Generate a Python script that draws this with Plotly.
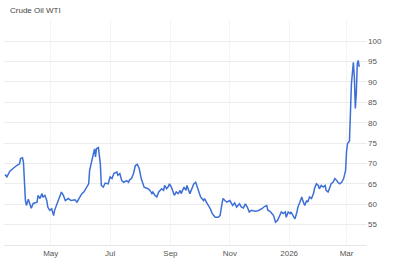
import plotly.graph_objects as go

title_text = "Crude Oil WTI"

dates = [
    "2025-03-15", "2025-03-17", "2025-03-20", "2025-03-24", "2025-03-27", "2025-03-30", "2025-03-31",
    "2025-04-02", "2025-04-03", "2025-04-05", "2025-04-06", "2025-04-08", "2025-04-10", "2025-04-11",
    "2025-04-13", "2025-04-17", "2025-04-18", "2025-04-20", "2025-04-22", "2025-04-23", "2025-04-25",
    "2025-04-27", "2025-04-28", "2025-04-30", "2025-05-02", "2025-05-04", "2025-05-05", "2025-05-07",
    "2025-05-10", "2025-05-12", "2025-05-14", "2025-05-16", "2025-05-19", "2025-05-22", "2025-05-26",
    "2025-05-28", "2025-05-30", "2025-06-02", "2025-06-04", "2025-06-06", "2025-06-09", "2025-06-10",
    "2025-06-12", "2025-06-14", "2025-06-15", "2025-06-16", "2025-06-17", "2025-06-19", "2025-06-21",
    "2025-06-22", "2025-06-24", "2025-06-26", "2025-06-29", "2025-07-01", "2025-07-03", "2025-07-05",
    "2025-07-08", "2025-07-09", "2025-07-11", "2025-07-13", "2025-07-15", "2025-07-18", "2025-07-20",
    "2025-07-21", "2025-07-23", "2025-07-25", "2025-07-27", "2025-07-29", "2025-07-31", "2025-08-02",
    "2025-08-05", "2025-08-09", "2025-08-11", "2025-08-13", "2025-08-14", "2025-08-16", "2025-08-18",
    "2025-08-20", "2025-08-23", "2025-08-25", "2025-08-26", "2025-08-28", "2025-08-30", "2025-08-31",
    "2025-09-02", "2025-09-05", "2025-09-07", "2025-09-09", "2025-09-11", "2025-09-12", "2025-09-15",
    "2025-09-17", "2025-09-18", "2025-09-21", "2025-09-23", "2025-09-25", "2025-09-27", "2025-09-30",
    "2025-10-02", "2025-10-05", "2025-10-06", "2025-10-09", "2025-10-12", "2025-10-14", "2025-10-17",
    "2025-10-20", "2025-10-22", "2025-10-24", "2025-10-25", "2025-10-27", "2025-10-29", "2025-11-01",
    "2025-11-03", "2025-11-04", "2025-11-06", "2025-11-08", "2025-11-11", "2025-11-13", "2025-11-15",
    "2025-11-17", "2025-11-19", "2025-11-21", "2025-11-23", "2025-11-27", "2025-11-30", "2025-12-04",
    "2025-12-07", "2025-12-09", "2025-12-10", "2025-12-13", "2025-12-16", "2025-12-18", "2025-12-20",
    "2025-12-22", "2025-12-24", "2025-12-26", "2025-12-28", "2025-12-29", "2025-12-31", "2026-01-02",
    "2026-01-03", "2026-01-05", "2026-01-07", "2026-01-09", "2026-01-10", "2026-01-12", "2026-01-14",
    "2026-01-15", "2026-01-17", "2026-01-19", "2026-01-20", "2026-01-22", "2026-01-24", "2026-01-26",
    "2026-01-27", "2026-01-29", "2026-01-31", "2026-02-01", "2026-02-03", "2026-02-05", "2026-02-07",
    "2026-02-08", "2026-02-10", "2026-02-12", "2026-02-13", "2026-02-15", "2026-02-17", "2026-02-19",
    "2026-02-20", "2026-02-22", "2026-02-24", "2026-02-26", "2026-02-28", "2026-03-01", "2026-03-02",
    "2026-03-04", "2026-03-06", "2026-03-08", "2026-03-09", "2026-03-10", "2026-03-11", "2026-03-12",
    "2026-03-13", "2026-03-14",
]

prices = [
    67.3, 66.7, 68.1, 69.0, 69.5, 69.9, 71.2,
    71.4, 70.3, 60.9, 59.7, 61.2, 59.7, 59.0,
    60.2, 60.5, 62.2, 61.4, 62.6, 61.7, 62.2,
    60.9, 59.3, 58.5, 58.9, 57.2, 58.5, 59.7,
    61.4, 63.0, 62.2, 60.9, 61.4, 60.9, 61.1,
    60.5, 61.4, 62.6, 63.0, 63.8, 65.0, 68.3,
    70.8, 72.4, 73.6, 71.6, 73.6, 73.9, 69.9,
    64.6, 64.2, 65.2, 65.0, 66.7, 66.3, 67.6,
    67.9, 67.1, 67.5, 65.8, 65.4, 65.8, 65.4,
    66.0, 66.3, 67.5, 69.5, 69.8, 68.7, 66.3,
    64.2, 63.8, 63.4, 62.6, 63.0, 62.2, 61.8,
    63.0, 63.8, 63.4, 64.6, 63.8, 64.4, 65.0,
    64.2, 62.2, 63.0, 62.6, 63.4, 62.6, 64.2,
    63.4, 64.6, 62.6, 63.8, 65.0, 65.4, 63.4,
    61.8, 60.9, 61.4, 60.1, 58.9, 57.7, 56.8,
    56.8, 57.2, 60.1, 61.4, 60.9, 60.5, 60.9,
    60.1, 59.7, 60.3, 59.3, 60.1, 59.3, 59.1,
    60.1, 59.3, 58.1, 58.5, 58.3, 58.4, 58.9,
    59.5, 59.7, 58.6, 58.1, 57.2, 55.6, 56.0,
    57.2, 58.1, 57.7, 58.1, 56.8, 58.1, 57.7,
    58.1, 57.2, 56.4, 58.1, 59.3, 60.5, 61.8,
    60.9, 59.7, 60.9, 60.5, 61.8, 61.4, 62.6,
    63.8, 65.0, 64.6, 63.8, 64.6, 64.2, 64.6,
    63.4, 63.0, 64.2, 65.0, 65.4, 66.3, 65.8,
    65.4, 65.0, 65.4, 66.3, 68.3, 73.0, 74.9,
    75.5, 89.6, 94.8, 91.2, 83.5, 87.1, 94.5,
    95.3, 93.7,
]

x_tick_dates = ["2025-05-01", "2025-07-01", "2025-09-01", "2025-11-01", "2026-01-01", "2026-03-01"]
x_tick_labels = ["May", "Jul", "Sep", "Nov", "2026", "Mar"]

y_tick_values = [55, 60, 65, 70, 75, 80, 85, 90, 95, 100, 105]
y_tick_labels = ["55", "60", "65", "70", "75", "80", "85", "90", "95", "100", ""]

fig = go.Figure()
fig.add_trace(go.Scatter(
    x=dates, y=prices, mode="lines",
    line=dict(color="#3d6fd6", width=1.5),
    hoverinfo="skip",
))

font_family = "Liberation Sans, Arial, sans-serif"

fig.update_layout(
    width=400, height=267,
    margin=dict(l=4, r=33, t=20, b=22),
    paper_bgcolor="white",
    plot_bgcolor="white",
    showlegend=False,
    font=dict(family=font_family, size=8, color="#555555"),
    xaxis=dict(
        range=["2025-03-14", "2026-03-22"],
        tickvals=x_tick_dates,
        ticktext=x_tick_labels,
        showgrid=True,
        gridcolor="#f4f4f4",
        gridwidth=1,
        showline=True,
        linecolor="#e6e6e6",
        linewidth=1,
        ticks="",
        zeroline=False,
        tickfont=dict(size=8, color="#555555"),
    ),
    yaxis=dict(
        range=[50, 105.2],
        side="right",
        tickvals=y_tick_values,
        ticktext=y_tick_labels,
        showgrid=True,
        gridcolor="#ececec",
        gridwidth=1,
        zeroline=False,
        ticks="",
        showline=False,
        tickfont=dict(size=8, color="#555555"),
    ),
    annotations=[dict(
        text=title_text, xref="paper", yref="paper",
        x=0, y=1, xanchor="left", yanchor="bottom",
        xshift=4, yshift=3, showarrow=False,
        font=dict(family=font_family, size=8, color="#444444"),
    )],
)

fig.write_html("out.html")
